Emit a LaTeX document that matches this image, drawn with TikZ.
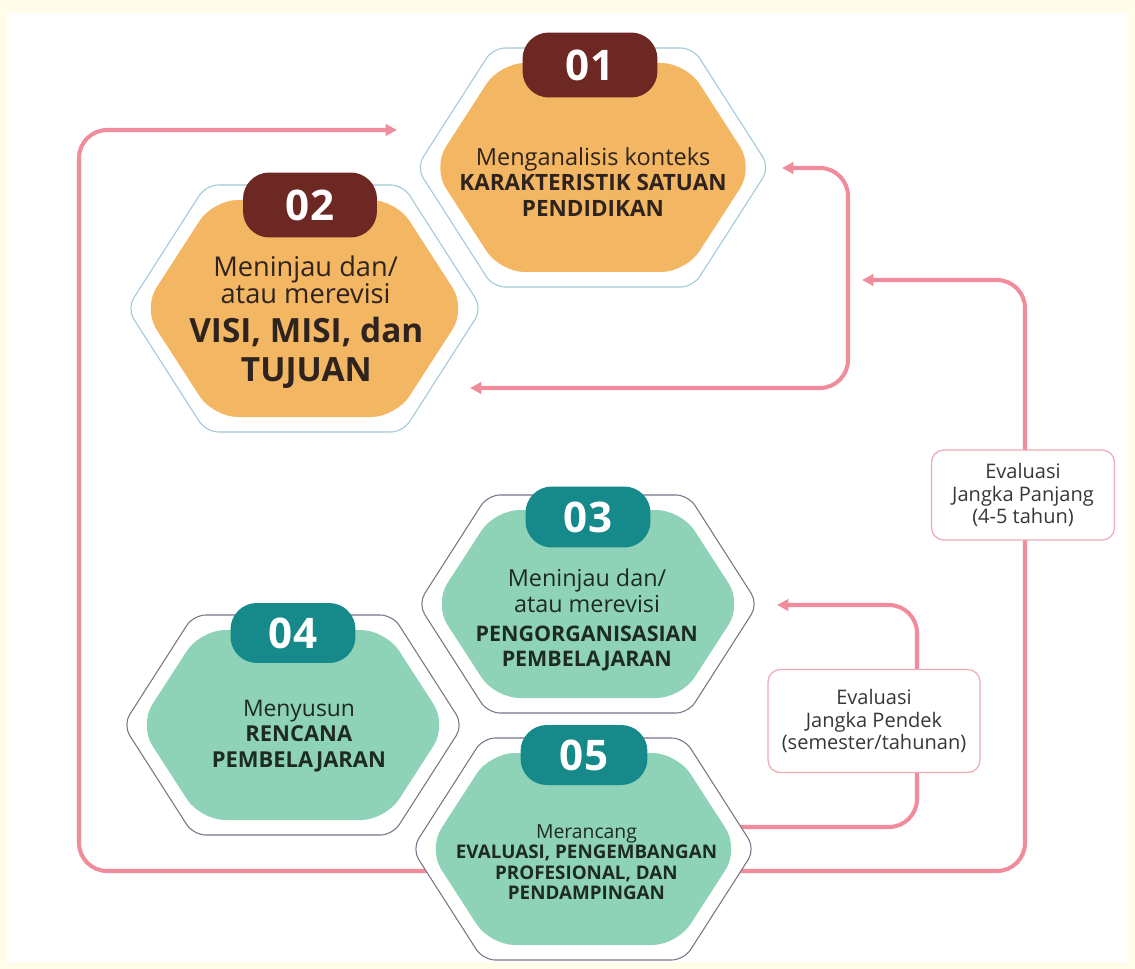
\documentclass[tikz,border=0pt]{standalone}
\usepackage{fontspec}
\setmainfont{Open Sans}
\usepackage{tikz}
\usetikzlibrary{arrows.meta}
\definecolor{cream}{RGB}{255,252,234}
\definecolor{orangefill}{RGB}{243,182,98}
\definecolor{greenfill}{RGB}{142,211,183}
\definecolor{maroon}{RGB}{110,40,36}
\definecolor{teal}{RGB}{22,137,138}
\definecolor{orangeline}{RGB}{160,200,215}
\definecolor{greenline}{RGB}{120,115,135}
\definecolor{looppink}{RGB}{240,140,155}
\definecolor{evline}{RGB}{240,170,180}
\definecolor{inkbrown}{RGB}{46,35,30}
\definecolor{inkgreen}{RGB}{30,42,36}
\definecolor{inkgrey}{RGB}{55,55,55}
\newcommand{\lowfont}[1]{\fontsize{#1}{#1}\selectfont}
\newcommand{\capsfont}[1]{\fontsize{#1}{#1}\selectfont\bfseries}
\tikzset{
  hexouter/.style={fill=white, line width=0.6pt, rounded corners=7pt},
  hexinner/.style={rounded corners=14pt},
  badge/.style={rounded corners=15pt, text=white, inner sep=0pt,
    font=\fontsize{24}{24}\selectfont\bfseries},
  hextext/.style={align=center, font=\fontsize{12}{14.5}\selectfont},
  evbox/.style={draw=evline, fill=white, rounded corners=7pt, line width=0.7pt,
    align=center, text=inkgrey, font=\fontsize{11.4}{13}\selectfont},
  loopline/.style={draw=looppink, line width=2.3pt, rounded corners=16pt},
  tip/.tip={Triangle[length=6.5pt,width=6.5pt]}
}
% name, cx, cy, width, height, colour prefix
\newcommand{\drawhex}[6]{
  \pgfmathsetmacro{\hexw}{#4/2}
  \pgfmathsetmacro{\hexh}{#5/2}
  \pgfmathsetmacro{\hexd}{0.32*#5}
  \pgfmathsetmacro{\hexwi}{\hexw-16}
  \pgfmathsetmacro{\hexhi}{\hexh-15}
  \pgfmathsetmacro{\hexdi}{\hexd-9}
  \filldraw[hexouter, draw=#6line] (#2,#3-\hexh) -- (#2+\hexw-\hexd,#3-\hexh) -- (#2+\hexw,#3)
    -- (#2+\hexw-\hexd,#3+\hexh) -- (#2-\hexw+\hexd,#3+\hexh) -- (#2-\hexw,#3)
    -- (#2-\hexw+\hexd,#3-\hexh) -- cycle;
  \fill[hexinner, #6fill] (#2,#3-\hexhi) -- (#2+\hexwi-\hexdi,#3-\hexhi) -- (#2+\hexwi,#3)
    -- (#2+\hexwi-\hexdi,#3+\hexhi) -- (#2-\hexwi+\hexdi,#3+\hexhi) -- (#2-\hexwi,#3)
    -- (#2-\hexwi+\hexdi,#3-\hexhi) -- cycle;
  \coordinate (#1) at (#2,#3);
}

\begin{document}
\begin{tikzpicture}[x=0.02cm,y=-0.02cm]
\fill[cream] (0,0) rectangle (1135,969);
\fill[white] (7,13) rectangle (1128,962);
\useasboundingbox (0,0) rectangle (1135,969);

% ends of the loops
\coordinate (in01w) at (397,130);
\coordinate (in01e) at (782,168);
\coordinate (in02) at (470,388);
\coordinate (in01low) at (862,280);
\coordinate (in03) at (777,605);
\coordinate (out05w) at (445,871);
\coordinate (out05e) at (735,871);
\coordinate (out05s) at (735,827);
\coordinate (turnL) at (79,500);
\coordinate (turn12) at (848,280);
\coordinate (turnlong) at (1025,500);
\coordinate (turnshort) at (917,700);

\draw[loopline, -tip] (out05w) -| (turnL) |- (in01w);
\draw[loopline, tip-tip] (in01e) -| (turn12) |- (in02);
\draw[loopline, -tip] (out05e) -| (turnlong) |- (in01low);
\draw[loopline, -tip] (out05s) -| (turnshort) |- (in03);

% hexagons
\drawhex{h1}{593}{167.5}{353}{239}{orange}
\drawhex{h2}{304.5}{308.5}{355}{247}{orange}
\drawhex{h3}{588}{604}{340}{218}{green}
\drawhex{h4}{293}{725}{340}{220}{green}
\drawhex{h5}{583.5}{849}{343}{222}{green}

\node[badge, fill=maroon, minimum width=2.7cm, minimum height=1.3cm] (b1) at (590,65) {01};
\node[badge, fill=maroon, minimum width=2.68cm, minimum height=1.3cm] (b2) at (310,205) {02};
\node[badge, fill=teal, minimum width=2.5cm, minimum height=1.22cm] (b3) at (588,517) {03};
\node[badge, fill=teal, minimum width=2.5cm, minimum height=1.2cm] (b4) at (293,633) {04};
\node[badge, fill=teal, minimum width=2.54cm, minimum height=1.2cm] (b5) at (584,755) {05};

\node[hextext, text=inkbrown] (t1) at (590,182) {\lowfont{13.4} Menganalisis konteks\\
  \capsfont{12.8} KARAKTERISTIK SATUAN\\ \capsfont{12.8} PENDIDIKAN};
\node[hextext, text=inkbrown, font=\fontsize{14}{15.3}\selectfont] (t2) at (302,322)
  {\lowfont{15.5} Meninjau dan/\\ \lowfont{15.5} atau merevisi\\[7pt]
  \capsfont{19} VISI, MISI, dan\\[5pt] \capsfont{19} TUJUAN};
\node[hextext, text=inkgreen] (t3) at (584,620) {\lowfont{13.3} Meninjau dan/\\
  \lowfont{13.3} atau merevisi\\[2pt] \capsfont{12.2} PENGORGANISASIAN\\
  \capsfont{12.2} PEMBELAJARAN};
\node[hextext, text=inkgreen] (t4) at (296,736) {\lowfont{13} Menyusun\\
  \capsfont{12.5} RENCANA\\ \capsfont{12.5} PEMBELAJARAN};
\node[hextext, text=inkgreen, font=\fontsize{10.7}{11.6}\selectfont] (t5) at (584,862)
  {\lowfont{11} Merancang\\ \capsfont{10.7} EVALUASI, PENGEMBANGAN\\
  \capsfont{10.7} PROFESIONAL, DAN\\ \capsfont{10.7} PENDAMPINGAN};

% evaluation labels
\node[evbox, minimum width=3.66cm, minimum height=1.8cm] (evlong) at (1023,495)
  {Evaluasi\\ Jangka Panjang\\ (4-5 tahun)};
\node[evbox, minimum width=4.24cm, minimum height=2.06cm] (evshort) at (874,721)
  {Evaluasi\\ Jangka Pendek\\ (semester/tahunan)};
\end{tikzpicture}
\end{document}
